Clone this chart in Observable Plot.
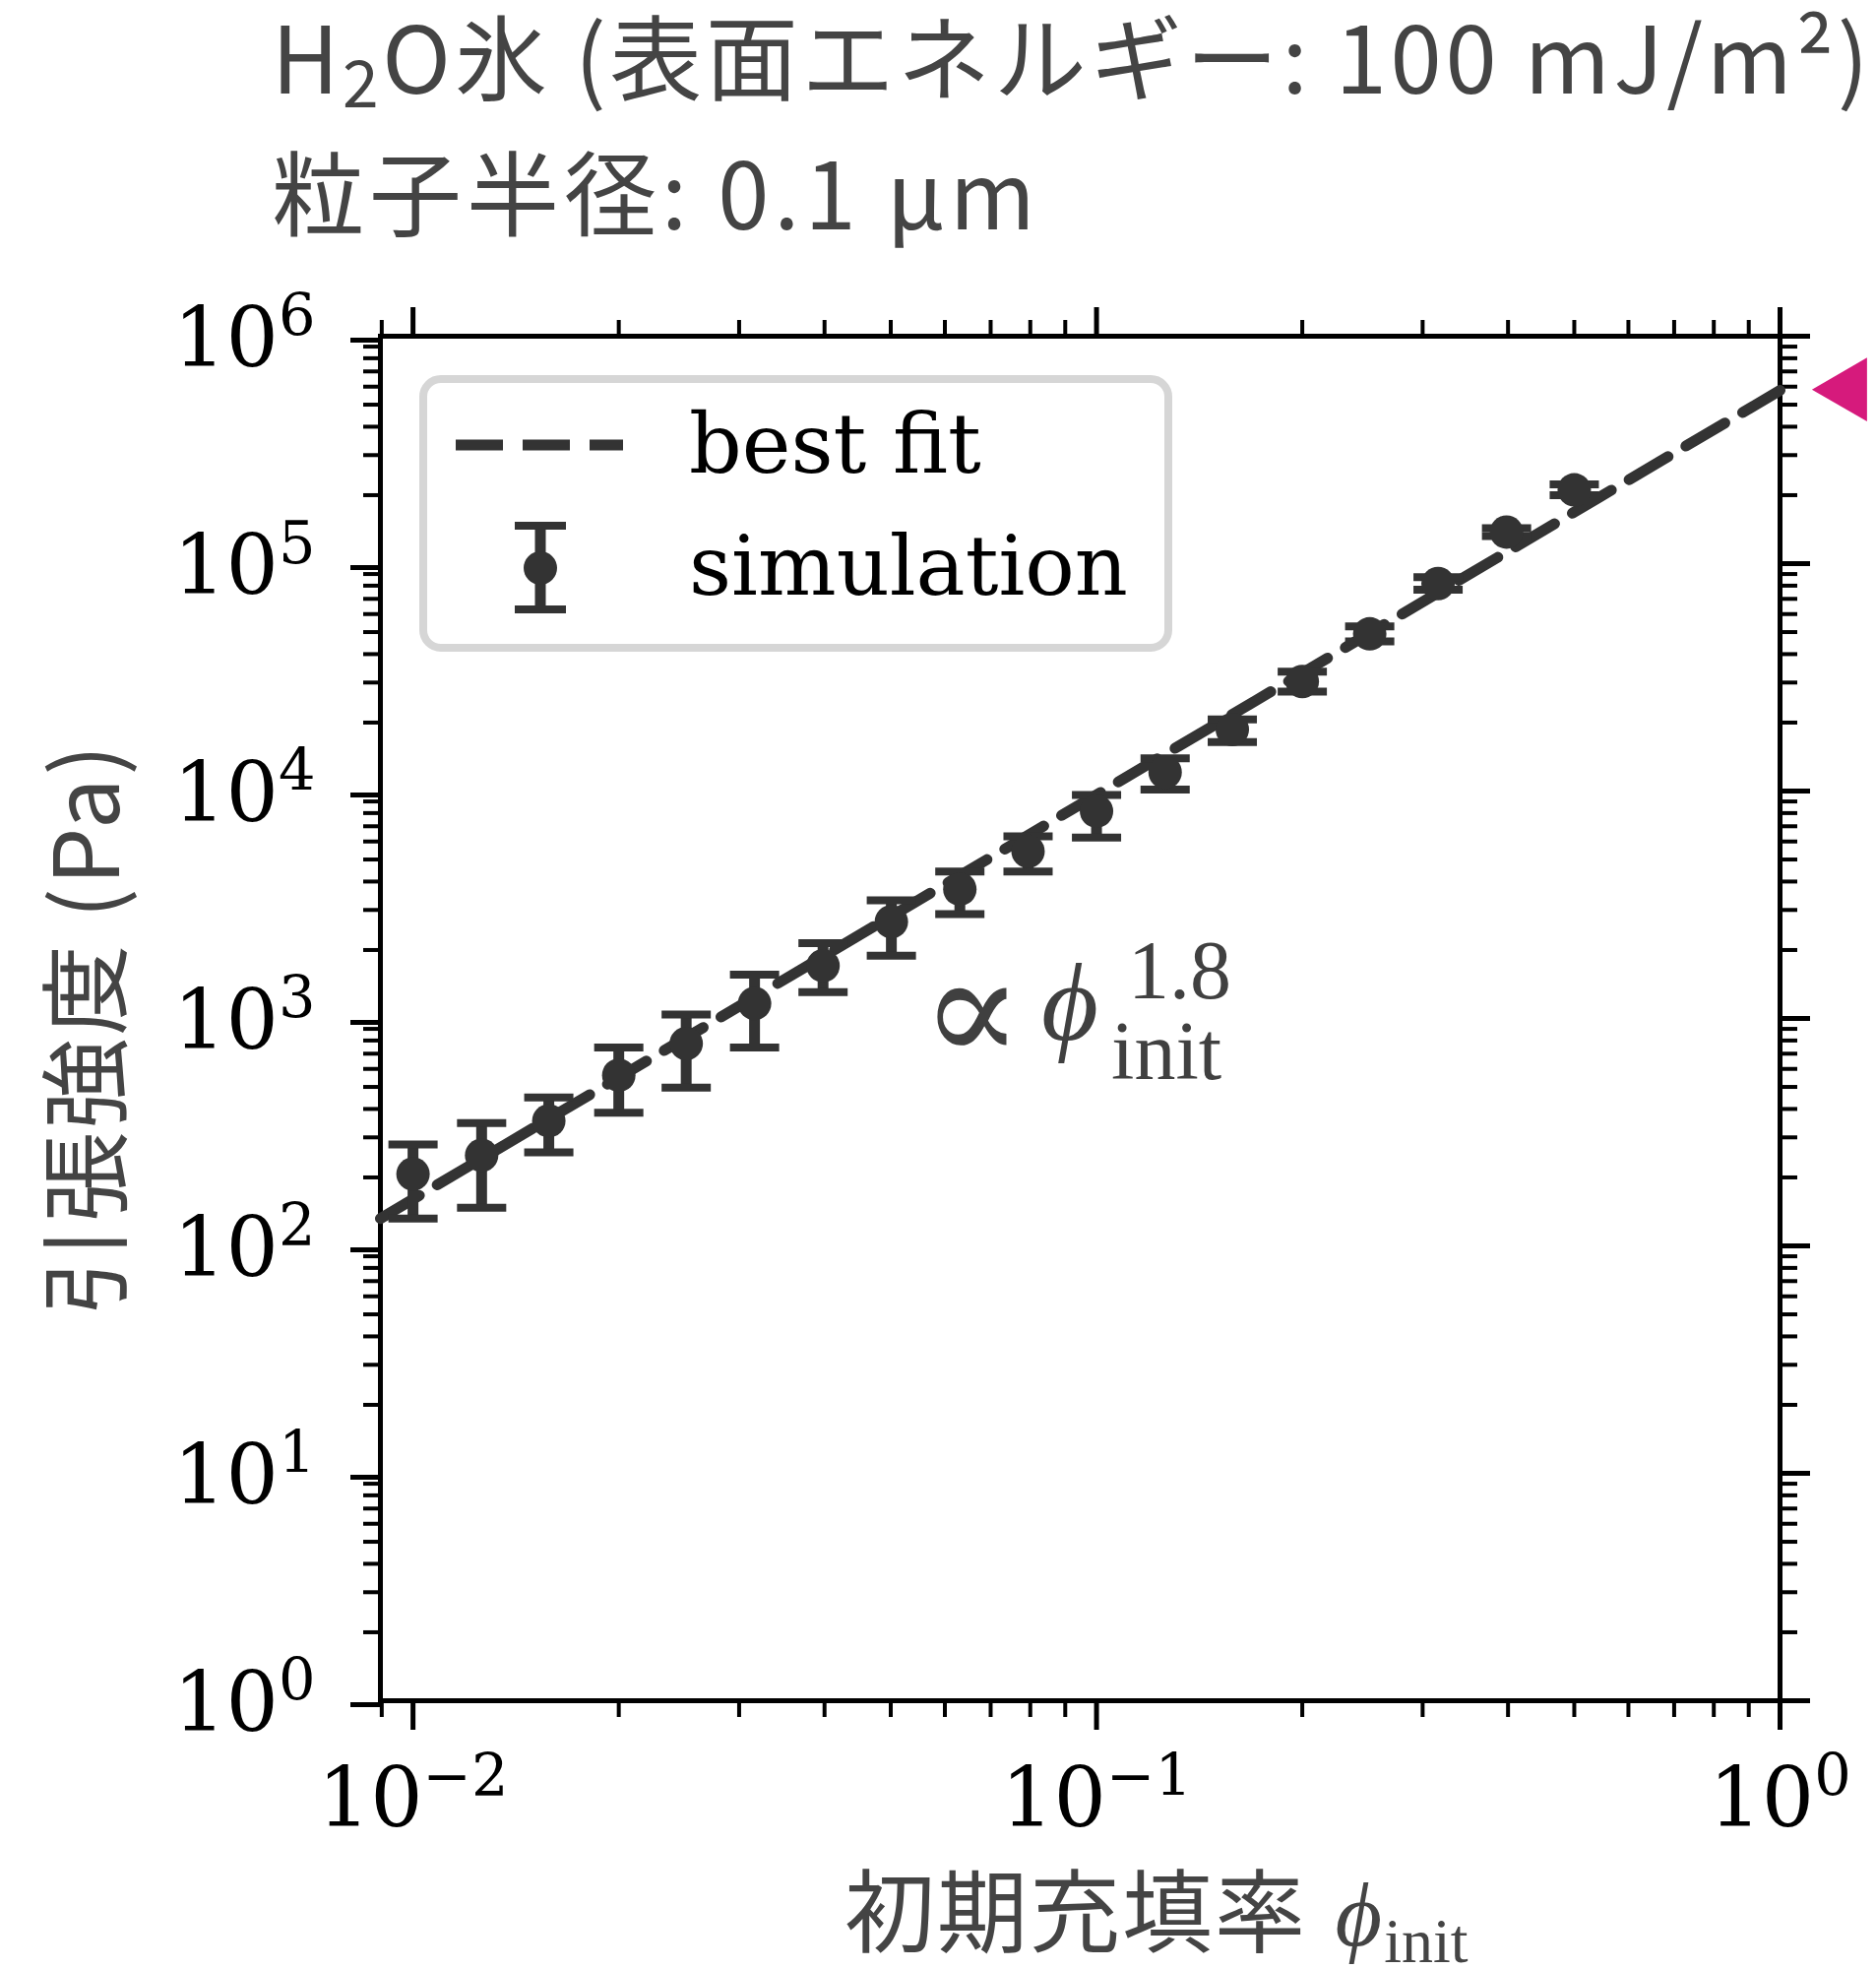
<!DOCTYPE html>
<html>
<head>
<meta charset="utf-8">
<script src="https://cdn.jsdelivr.net/npm/d3@7"></script>
<script src="https://cdn.jsdelivr.net/npm/@observablehq/plot@0.6"></script>
<style>
  body { margin: 0; background: #fff; }
  #wrap { position: relative; width: 1906px; height: 2000px; overflow: hidden; background: #fff; }
  #title { position: absolute; left: 0; top: 0; }
  #chart { position: absolute; left: 0; top: 260px; }
  #overlay { position: absolute; left: 0; top: 0; pointer-events: none; }
</style>
</head>
<body>
<div id="wrap">
  <svg id="title" width="1906" height="260">
    <text x="276" y="95" font-family="Noto Sans CJK JP" font-size="94" letter-spacing="3.6" fill="#444">H<tspan font-size="66" dy="14">2</tspan><tspan dy="-14">O氷 (表面エネルギー: 100 mJ/m²)</tspan></text>
    <text x="276" y="233" font-family="Noto Sans CJK JP" font-size="94" letter-spacing="5" fill="#444">粒子半径: 0.1 μm</text>
  </svg>
  <div id="chart"></div>
  <svg id="overlay" width="1906" height="2000"></svg>
</div>
<script>
// ---- data ----
const phi   = [0.01, 0.0126, 0.0158, 0.02, 0.0251, 0.0316, 0.0398, 0.0501, 0.0631, 0.0794, 0.1, 0.126, 0.158, 0.2, 0.251, 0.316, 0.398, 0.5];
const sigma = [207, 250, 355, 563, 776, 1164, 1706, 2663, 3704, 5430, 8160, 12100, 18650, 30300, 49100, 81700, 137700, 211000];
const sigLo = [132, 147, 258, 385, 497, 746, 1306, 1888, 2878, 4430, 6250, 10140, 16400, 27400, 45500, 76700, 132200, 199700];
const sigHi = [279, 347, 449, 746, 1040, 1560, 2144, 3305, 4430, 6327, 9620, 13930, 20650, 33500, 53000, 87100, 143000, 222900];
const fitX  = [0.00896, 1];
const fitY  = [132, 578000];
const annoX = [0.0573];
const annoY = [811];
const markX = [1.26];
const markY = [583000];
const xMajor = [0.01, 0.1, 1];
const xMinor = [0.009, 0.02, 0.03, 0.04, 0.05, 0.06, 0.07, 0.08, 0.09, 0.2, 0.3, 0.4, 0.5, 0.6, 0.7, 0.8, 0.9];
const yMajor = [1, 10, 100, 1000, 10000, 100000, 1000000];
const yMinor = [];
for (const k of [1, 10, 100, 1000, 10000, 100000]) for (const m of [2,3,4,5,6,7,8,9]) yMinor.push(m * k);

const sim = phi.map((x, i) => ({x, y: sigma[i], lo: sigLo[i], hi: sigHi[i]}));
const fit = fitX.map((x, i) => ({x, y: fitY[i]}));
const anno = annoX.map((x, i) => ({x, y: annoY[i]}));
const mark = markX.map((x, i) => ({x, y: markY[i]}));

const DARK = "#333333";
const capSymbol = { draw(ctx, size) { const r = Math.sqrt(size / Math.PI); ctx.moveTo(-r, 0); ctx.lineTo(r, 0); } };
const expFmt = d => "10^" + String(Math.round(Math.log10(d))).replace("-", "−");
const blank = () => "";
const tickFont = {fontFamily: "DejaVu Serif", fontSize: 84};

const chart = Plot.plot({
  width: 1906, height: 1740,
  marginLeft: 386, marginRight: 98, marginTop: 81, marginBottom: 273,
  x: {type: "log", domain: [0.00896, 1]},
  y: {type: "log", domain: [1, 1e6]},
  style: {color: "black", background: "white", overflow: "visible"},
  marks: [
    // minor ticks, all four sides
    Plot.axisX(xMinor, {anchor: "bottom", tickSize: 17, strokeWidth: 4, tickFormat: blank, label: null}),
    Plot.axisX(xMinor, {anchor: "top", tickSize: 17, strokeWidth: 4, tickFormat: blank, label: null}),
    Plot.axisY(yMinor, {anchor: "left", tickSize: 17, strokeWidth: 4, tickFormat: blank, label: null}),
    Plot.axisY(yMinor, {anchor: "right", tickSize: 17, strokeWidth: 4, tickFormat: blank, label: null}),
    // major ticks
    Plot.axisX(xMajor, {anchor: "bottom", tickSize: 30, strokeWidth: 5, tickPadding: 38, tickFormat: expFmt, label: null, ...tickFont}),
    Plot.axisX(xMajor, {anchor: "top", tickSize: 30, strokeWidth: 5, tickFormat: blank, label: null}),
    Plot.axisY(yMajor, {anchor: "left", tickSize: 30, strokeWidth: 5, tickPadding: 36, dy: 4, tickFormat: expFmt, label: null, ...tickFont}),
    Plot.axisY(yMajor, {anchor: "right", tickSize: 30, strokeWidth: 5, tickFormat: blank, label: null}),
    Plot.frame({stroke: "black", strokeWidth: 5}),
    // best fit
    Plot.line(fit, {x: "x", y: "y", stroke: DARK, strokeWidth: 11, strokeDasharray: "46,21"}),
    // simulation with error bars
    Plot.ruleX(sim, {x: "x", y1: "lo", y2: "hi", stroke: DARK, strokeWidth: 11}),
    Plot.dot(sim, {x: "x", y: "hi", r: 25, symbol: capSymbol, stroke: DARK, strokeWidth: 8, fill: "none"}),
    Plot.dot(sim, {x: "x", y: "lo", r: 25, symbol: capSymbol, stroke: DARK, strokeWidth: 8, fill: "none"}),
    Plot.dot(sim, {x: "x", y: "y", r: 17, fill: DARK, stroke: "none"}),
    // annotation  ∝ ϕ_init^1.8
    Plot.text(anno, {x: "x", y: "y", text: () => "∝", textAnchor: "start", lineAnchor: "bottom", dx: -10, dy: 22, fontFamily: "DejaVu Serif", fontSize: 152, fill: "#404040"}),
    Plot.text(anno, {x: "x", y: "y", text: () => "ϕ", textAnchor: "start", lineAnchor: "bottom", dx: 112, fontFamily: "Liberation Serif, DejaVu Serif", fontStyle: "italic", fontSize: 112, fill: "#404040"}),
    Plot.text(anno, {x: "x", y: "y", text: () => "1.8", textAnchor: "start", lineAnchor: "bottom", dx: 200, dy: -42, fontFamily: "Liberation Serif", fontSize: 84, fill: "#404040"}),
    Plot.text(anno, {x: "x", y: "y", text: () => "init", textAnchor: "start", lineAnchor: "bottom", dx: 183, dy: 40, fontFamily: "Liberation Serif", fontSize: 84, fill: "#404040"}),
    // marker outside the frame
    Plot.dot(mark, {x: "x", y: "y", r: 24, symbol: "triangle", rotate: -90, fill: "#d61a7c", stroke: "none"})
  ]
});
document.getElementById("chart").appendChild(chart);

// superscript exponents on tick labels
const NS = "http://www.w3.org/2000/svg";
chart.querySelectorAll("text").forEach(t => {
  const s = t.textContent;
  if (!s.includes("^")) return;
  const [b, e] = s.split("^");
  t.textContent = b;
  const ts = document.createElementNS(NS, "tspan");
  ts.setAttribute("font-size", 59);
  ts.setAttribute("dy", -31);
  ts.textContent = e;
  t.appendChild(ts);
});

// overlay: legend and axis titles
const ov = d3.select("#overlay");
const lg = ov.append("g");
lg.append("rect").attr("x", 430).attr("y", 385).attr("width", 757).attr("height", 273)
  .attr("rx", 18).attr("fill", "white").attr("stroke", "#d6d6d6").attr("stroke-width", 8);
lg.append("line").attr("x1", 463).attr("x2", 633).attr("y1", 452).attr("y2", 452)
  .attr("stroke", DARK).attr("stroke-width", 11).attr("stroke-dasharray", "48,20");
lg.append("line").attr("x1", 549).attr("x2", 549).attr("y1", 534).attr("y2", 619).attr("stroke", DARK).attr("stroke-width", 11);
lg.append("line").attr("x1", 523).attr("x2", 575).attr("y1", 534).attr("y2", 534).attr("stroke", DARK).attr("stroke-width", 8);
lg.append("line").attr("x1", 523).attr("x2", 575).attr("y1", 619).attr("y2", 619).attr("stroke", DARK).attr("stroke-width", 8);
lg.append("circle").attr("cx", 549).attr("cy", 577).attr("r", 17).attr("fill", DARK);
lg.append("text").attr("x", 700).attr("y", 480).attr("font-family", "DejaVu Serif").attr("font-size", 84).attr("fill", "black").text("best fit");
lg.append("text").attr("x", 700).attr("y", 604).attr("font-family", "DejaVu Serif").attr("font-size", 84).attr("fill", "black").text("simulation");

ov.append("text").attr("transform", "translate(121,1045) rotate(-90)").attr("text-anchor", "middle")
  .attr("font-family", "Noto Sans CJK JP").attr("font-size", 92).attr("letter-spacing", 3).attr("fill", "#444").text("引張強度 (Pa)");
const xt = ov.append("text").attr("x", 858).attr("y", 1976).attr("font-family", "Noto Sans CJK JP").attr("font-size", 92).attr("letter-spacing", 2).attr("fill", "#444");
xt.append("tspan").text("初期充填率 ");
xt.append("tspan").attr("dx", 6).attr("font-family", "Liberation Serif, DejaVu Serif").attr("font-style", "italic").text("ϕ");
xt.append("tspan").attr("font-family", "Liberation Serif").attr("font-size", 64).attr("letter-spacing", 0).attr("dy", 17).text("init");
</script>
</body>
</html>
